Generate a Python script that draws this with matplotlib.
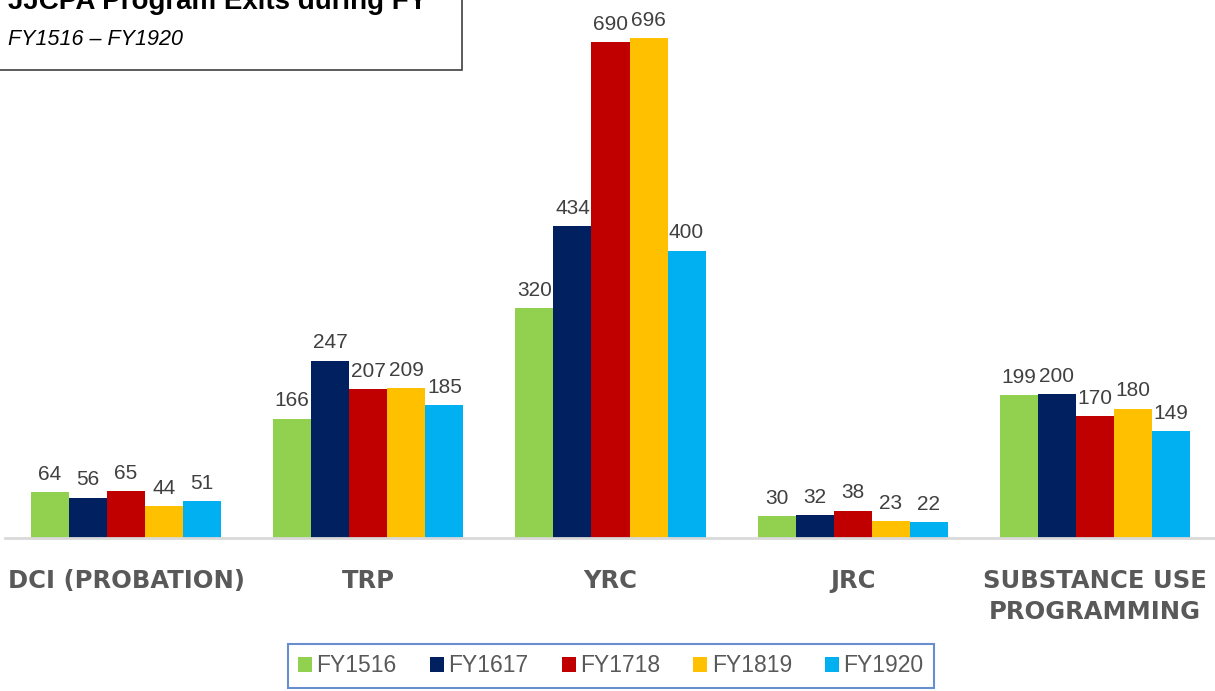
import numpy as np
import matplotlib.pyplot as plt
from matplotlib.patches import Rectangle

plt.rcParams['font.family'] = ['Liberation Sans', 'DejaVu Sans']

# data
programs = ['DCI (PROBATION)', 'TRP', 'YRC', 'JRC', 'SUBSTANCE USE\nPROGRAMMING']
years = ['FY1516', 'FY1617', 'FY1718', 'FY1819', 'FY1920']
fy1516 = [64, 166, 320, 30, 199]
fy1617 = [56, 247, 434, 32, 200]
fy1718 = [65, 207, 690, 38, 170]
fy1819 = [44, 209, 696, 23, 180]
fy1920 = [51, 185, 400, 22, 149]
series = [fy1516, fy1617, fy1718, fy1819, fy1920]
colors = ['#92D050', '#002060', '#C00000', '#FFC000', '#00B0F0']

W, H = 1215, 691
fig = plt.figure(figsize=(W / 100, H / 100), dpi=100)
ax = fig.add_axes([5 / W, 153 / H, 1211 / W, 538 / H])

x = np.arange(len(programs))
bw = 0.157
for i, (vals, c, lab) in enumerate(zip(series, colors, years)):
    pos = x + (i - 2) * bw
    ax.bar(pos, vals, bw, color=c, label=lab, zorder=2)
    for p, v in zip(pos, vals):
        ax.annotate(str(v), (p, v), xytext=(0, 6), textcoords='offset points',
                    ha='center', va='bottom', fontsize=15, color='#404040')

ax.set_xlim(-0.5, 4.5)
ax.set_ylim(0, 749)
for s in ['top', 'right', 'left']:
    ax.spines[s].set_visible(False)
ax.spines['bottom'].set_color('#D9D9D9')
ax.spines['bottom'].set_linewidth(2)
ax.set_yticks([])
ax.set_xticks(x)
ax.set_xticklabels(programs, fontsize=17.5, fontweight='bold', color='#595959',
                   family=['DejaVu Sans'], linespacing=1.4)
ax.tick_params(axis='x', length=0, pad=22)

leg = fig.legend(loc='center', bbox_to_anchor=(611 / W, 1 - 666 / H), ncol=5,
                 frameon=True, fontsize=16.5, handlelength=0.6, handleheight=0.6,
                 handletextpad=0.2, columnspacing=1.45, borderpad=0.45,
                 fancybox=False)
leg.get_frame().set_edgecolor('#4472C4')
leg.get_frame().set_linewidth(1.5)
for t in leg.get_texts():
    t.set_color('#595959')

# title box, cut at the top edge
fig.patches.append(Rectangle((-0.01, 1 - 70 / H), 0.01 + 462 / W, 0.2,
                             transform=fig.transFigure, fill=True, facecolor='white',
                             edgecolor='#404040', linewidth=1.2, zorder=5))
fig.text(8 / W, 1 - 9 / H, 'JJCPA Program Exits during FY', fontsize=20,
         fontweight='bold', color='black', va='baseline', ha='left', zorder=6)
fig.text(8 / W, 1 - 45 / H, 'FY1516 \u2013 FY1920', fontsize=15.5, style='italic',
         color='black', va='baseline', ha='left', zorder=6)

fig.savefig('out.png', dpi=100)
